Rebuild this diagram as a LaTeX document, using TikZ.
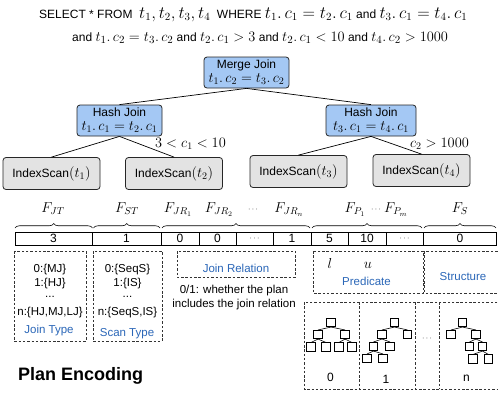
\documentclass[tikz,border=0pt]{standalone}
\usepackage[no-math]{fontspec}
\setmainfont{Liberation Sans}
\usetikzlibrary{decorations.pathreplacing}
\definecolor{jblue}{HTML}{A4C8F4}
\definecolor{sgray}{HTML}{E3E3E3}
\definecolor{tblue}{HTML}{2B67B8}
\newcommand\mm[1]{{\fontsize{14.5}{16}\selectfont$#1$}}
\newcommand\mq[1]{{\fontsize{16}{18}\selectfont$#1$}}
\newcommand\mr[1]{{\fontsize{15.3}{17}\selectfont$#1$}}
\tikzset{
 opbox/.style={draw=black!85, line width=0.8pt, rounded corners=3pt, fill=jblue, align=center, inner sep=0pt, minimum height=31pt, font=\fontsize{12}{15}\selectfont},
 scanbox/.style={draw=black!85, line width=0.8pt, rounded corners=3pt, fill=sgray, inner sep=0pt, minimum width=97pt, minimum height=32pt, font=\fontsize{12}{14}\selectfont},
 edge/.style={line width=0.7pt},
 txt/.style={font=\fontsize{11.5}{13}\selectfont, inner sep=0pt, anchor=base},
 btxt/.style={txt, text=tblue},
 dbox/.style={draw=black!80, line width=0.7pt, dash pattern=on 2.5pt off 1.8pt},
 cellline/.style={draw, line width=0.7pt},
 brc/.style={decorate, decoration={brace, amplitude=4.5pt}, line width=0.6pt},
 tn/.style={draw, line width=0.6pt, minimum size=8.5pt, inner sep=0pt},
 tl/.style={line width=0.6pt},
}
\begin{document}
\begin{tikzpicture}[x=1pt,y=-1pt]
\clip (0,0) rectangle (498,392);
\fill[white] (0,0) rectangle (498,392);
% title
\node[anchor=base west, inner sep=0pt, font=\fontsize{12}{14}\selectfont] (q1) at (39,18) {SELECT * FROM \ \mq{t_1,t_2,t_3,t_4} \ WHERE \mq{t_1.\,c_1=t_2.\,c_1} and \mq{t_3.\,c_1=t_4.\,c_1}};
\node[anchor=base west, inner sep=0pt, font=\fontsize{12}{14}\selectfont] (q2) at (72,41) {and \mr{t_1.\,c_2=t_3.\,c_2} and \mr{t_2.\,c_1>3} and \mr{t_2.\,c_1<10} and \mr{t_4.\,c_2>1000}};
% plan tree
\node[opbox, minimum width=85pt] (mj) at (246.5,72.5) {Merge Join\\[-1pt]\mm{t_1.\,c_2=t_3.\,c_2}};
\node[opbox, minimum width=85pt] (hjl) at (119.5,120.5) {Hash Join\\[-1pt]\mm{t_1.\,c_1=t_2.\,c_1}};
\node[opbox, minimum width=90pt] (hjr) at (371,120.5) {Hash Join\\[-1pt]\mm{t_3.\,c_1=t_4.\,c_1}};
\node[scanbox] (is1) at (51.5,173.5) {IndexScan\mm{(t_1)}};
\node[scanbox] (is2) at (174,173.5) {IndexScan\mm{(t_2)}};
\node[scanbox] (is3) at (298.5,171.5) {IndexScan\mm{(t_3)}};
\node[scanbox] (is4) at (421.5,170.5) {IndexScan\mm{(t_4)}};
\draw[edge] (mj.south) -- (hjl.north);
\draw[edge] (mj.south) -- (hjr.north);
\draw[edge] (hjl.south) -- (is1.north);
\draw[edge] (hjl.south) -- (is2.north);
\draw[edge] (hjr.south) -- (is3.north);
\draw[edge] (hjr.south) -- (is4.north);
\node[anchor=base, inner sep=0pt] (lb1) at (190.5,147) {\mm{3<c_1<10}};
\node[anchor=base, inner sep=0pt] (lb2) at (439.5,147) {\mm{c_2>1000}};
% braces and field labels
\draw[brc] (15,228) -- (92.5,228);
\draw[brc] (93.5,228) -- (160,228);
\draw[brc] (162,228) -- (310,228);
\draw[brc] (312,228) -- (422,228);
\draw[brc] (424,228) -- (496,228);
\node[anchor=base, inner sep=0pt] (f1) at (53,212.5) {\mm{F_{JT}}};
\node[anchor=base, inner sep=0pt] (f2) at (127,212.5) {\mm{F_{ST}}};
\node[anchor=base, inner sep=0pt] (f3) at (178,212.5) {\mm{F_{JR_1}}};
\node[anchor=base, inner sep=0pt] (f4) at (219,212.5) {\mm{F_{JR_2}}};
\node[inner sep=0pt] (f5) at (253,210) {\fontsize{8}{9}\selectfont$\cdots$};
\node[anchor=base, inner sep=0pt] (f6) at (289,212.5) {\mm{F_{JR_n}}};
\node[anchor=base, inner sep=0pt] (f7) at (355,212.5) {\mm{F_{P_1}}};
\node[inner sep=0pt] (f8) at (376,210) {\fontsize{8}{9}\selectfont$\cdots$};
\node[anchor=base, inner sep=0pt] (f9) at (396,212.5) {\mm{F_{P_m}}};
\node[anchor=base, inner sep=0pt] (f10) at (460,212.5) {\mm{F_{S}}};
% vector row
\draw[cellline] (15,232) rectangle (496,245);
\foreach \x in {92,161,199,236,273,311,348,386,423} \draw[cellline] (\x,232) -- (\x,245);
\foreach \x/\v [count=\i] in {53.5/3,126.5/1,180/0,217.5/0,292/1,329.5/5,367/10,460/0}
  \node[txt, font=\fontsize{12}{14}\selectfont] (v\i) at (\x,242.5) {\v};
\node[inner sep=0pt] (d1) at (254.5,238.5) {\fontsize{8}{9}\selectfont$\cdots$};
\node[inner sep=0pt] (d2) at (404.5,238.5) {\fontsize{8}{9}\selectfont$\cdots$};
% dashed boxes
\draw[dbox] (14,251) rectangle (86,341);
\draw[dbox] (93,251) rectangle (162,341);
\draw[dbox] (177,251) rectangle (295,277);
\draw[dbox] (313,251) rectangle (423,293);
\draw[dbox] (424.5,251) rectangle (505,293);
\draw[dbox] (304,302) rectangle (505,389);
\foreach \x in {359,415,439} \draw[dbox] (\x,302) -- (\x,389);
% join type
\node[txt] (jt0) at (50,272) {0:\{MJ\}};
\node[txt] (jt1) at (50,286) {1:\{HJ\}};
\node[txt] (jt2) at (50,297) {...};
\node[txt] (jt3) at (50,315) {n:\{HJ,MJ,LJ\}};
\node[btxt] (jt4) at (49,333) {Join Type};
% scan type
\node[txt] (st0) at (127.5,272) {0:\{SeqS\}};
\node[txt] (st1) at (127.5,286) {1:\{IS\}};
\node[txt] (st2) at (127.5,297) {...};
\node[txt] (st3) at (127.5,315) {n:\{SeqS,IS\}};
\node[btxt] (st4) at (127,336) {Scan Type};
% join relation
\node[btxt] (jr) at (236,272.5) {Join Relation};
\node[txt] (jr1) at (234,293) {0/1: whether the plan};
\node[txt] (jr2) at (234,307.5) {includes the join relation};
% predicate
\node[anchor=base, inner sep=0pt] (pl) at (330,268) {\mm{l}};
\node[anchor=base, inner sep=0pt] (pu) at (368,268) {\mm{u}};
\node[btxt] (pr) at (366.5,285) {Predicate};
% structure
\node[btxt] (sr) at (463,280) {Structure};
% trees
\node[tn] (a0) at (331,322.5) {};
\node[tn] (a1) at (318,334.5) {};
\node[tn] (a2) at (345,334.5) {};
\node[tn] (a3) at (311,347) {};
\node[tn] (a4) at (326,347) {};
\node[tn] (a5) at (339,347) {};
\node[tn] (a6) at (352,347) {};
\draw[tl] (a0.south) -- (a1.north); \draw[tl] (a0.south) -- (a2.north);
\draw[tl] (a1.south) -- (a3.north); \draw[tl] (a1.south) -- (a4.north);
\draw[tl] (a2.south) -- (a5.north); \draw[tl] (a2.south) -- (a6.north);
\node[tn] (b0) at (394.5,322.5) {};
\node[tn] (b1) at (382,334.5) {};
\node[tn] (b2) at (407.5,334.5) {};
\node[tn] (b3) at (373.5,346.5) {};
\node[tn] (b4) at (390,346.5) {};
\node[tn] (b5) at (367,358.5) {};
\node[tn] (b6) at (383,358.5) {};
\draw[tl] (b0.south) -- (b1.north); \draw[tl] (b0.south) -- (b2.north);
\draw[tl] (b1.south) -- (b3.north); \draw[tl] (b1.south) -- (b4.north);
\draw[tl] (b3.south) -- (b5.north); \draw[tl] (b3.south) -- (b6.north);
\node[tn] (c0) at (462.5,322.5) {};
\node[tn] (c1) at (451,334.5) {};
\node[tn] (c2) at (476,334.5) {};
\node[tn] (c3) at (469.5,346.5) {};
\node[tn] (c4) at (482.5,346.5) {};
\node[tn] (c5) at (473,359) {};
\node[tn] (c6) at (488.5,359) {};
\draw[tl] (c0.south) -- (c1.north); \draw[tl] (c0.south) -- (c2.north);
\draw[tl] (c2.south) -- (c3.north); \draw[tl] (c2.south) -- (c4.north);
\draw[tl] (c4.south) -- (c5.north); \draw[tl] (c4.south) -- (c6.north);
\node[inner sep=0pt] (td) at (427,339) {\fontsize{8}{9}\selectfont$\cdots$};
\node[txt, font=\fontsize{12}{14}\selectfont] (t0) at (330.5,381) {0};
\node[txt, font=\fontsize{12}{14}\selectfont] (t1) at (386,383) {1};
\node[txt, font=\fontsize{12}{14}\selectfont] (tn) at (466.5,381) {n};
% title
\node[anchor=base west, inner sep=0pt, font=\bfseries\fontsize{18}{20}\selectfont] (pe) at (18,380.5) {Plan Encoding};
\end{tikzpicture}
\end{document}
